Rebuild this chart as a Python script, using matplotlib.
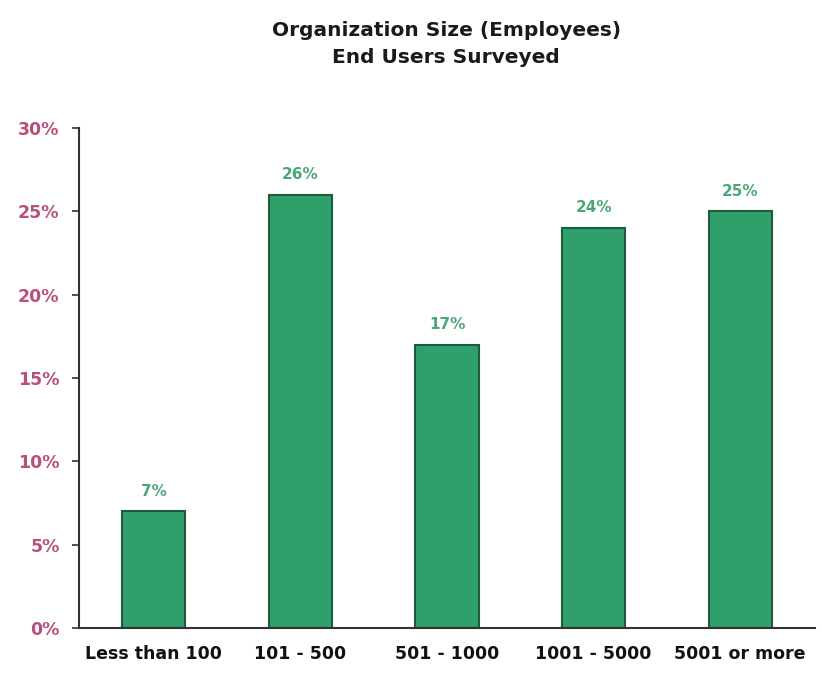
import matplotlib
matplotlib.use("Agg")
import matplotlib.pyplot as plt
from matplotlib.ticker import FuncFormatter

categories = ["Less than 100", "101 - 500", "501 - 1000", "1001 - 5000", "5001 or more"]
shares = [7, 26, 17, 24, 25]
y_ticks = [0, 5, 10, 15, 20, 25, 30]

bar_color = "#2f9f6c"
edge_color = "#1f5a3a"
label_green = "#4aa878"
tick_pink = "#b8507f"

fig = plt.figure(figsize=(8.22, 6.75), dpi=100)
ax = fig.add_axes([0.0961, 0.0696, 0.8954, 0.7408])

x = range(len(categories))
ax.bar(x, shares, width=0.43, color=bar_color, edgecolor=edge_color, linewidth=1.5)

for xi, v in zip(x, shares):
    ax.annotate(f"{v}%", (xi, v), xytext=(0, 9), textcoords="offset points",
                ha="center", va="bottom", fontsize=11, fontweight="bold", color=label_green)

ax.set_xlim(-0.51, 4.51)
ax.set_ylim(0, 30)
ax.set_yticks(y_ticks)
ax.yaxis.set_major_formatter(FuncFormatter(lambda v, p: f"{int(v)}%"))
ax.set_xticks(list(x))
ax.set_xticklabels(categories, fontsize=12.5, fontweight="bold", color="#111111")
ax.tick_params(axis="x", length=0, pad=12)
ax.tick_params(axis="y", length=5, width=1.2, pad=9, labelsize=12.5,
               labelcolor=tick_pink, color="#333333")
for lab in ax.get_yticklabels():
    lab.set_fontweight("bold")

for s in ["top", "right"]:
    ax.spines[s].set_visible(False)
for s in ["left", "bottom"]:
    ax.spines[s].set_linewidth(1.5)
    ax.spines[s].set_color("#333333")

fig.text(0.543, 0.955, "Organization Size (Employees)", ha="center", va="center",
         fontsize=14.5, fontweight="bold", color="#1a1a1a")
fig.text(0.543, 0.915, "End Users Surveyed", ha="center", va="center",
         fontsize=14.5, fontweight="bold", color="#1a1a1a")

fig.savefig("out.png", dpi=100)
